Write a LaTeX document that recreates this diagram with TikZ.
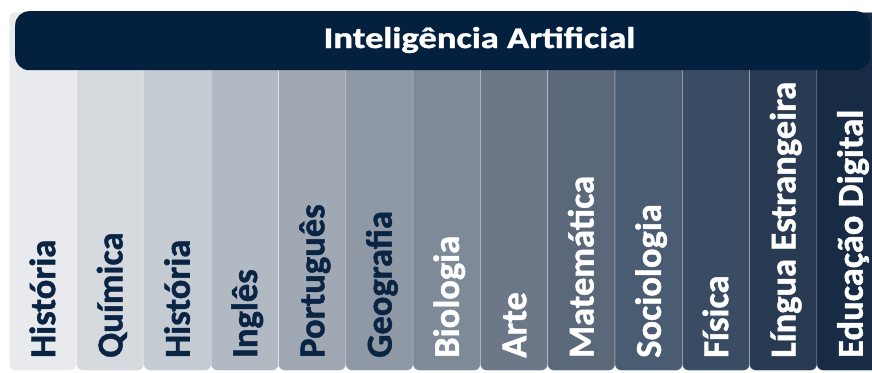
\documentclass[tikz,border=0pt]{standalone}
\usepackage{fontspec}
\setmainfont{Carlito}
\newfontfamily\labfont{Carlito}[BoldFeatures={FakeBold=1.2}]
\definecolor{banner}{HTML}{03203E}
\definecolor{darktext}{HTML}{0A2444}
\definecolor{ca}{HTML}{E9EAEE}
\definecolor{cb}{HTML}{D6D9DE}
\definecolor{cc}{HTML}{C4CBD3}
\definecolor{cd}{HTML}{B1B9C3}
\definecolor{ce}{HTML}{A0A9B3}
\definecolor{cf}{HTML}{8E99A5}
\definecolor{cg}{HTML}{7E8A98}
\definecolor{ch}{HTML}{6C7888}
\definecolor{ci}{HTML}{5A6879}
\definecolor{cj}{HTML}{4A5C71}
\definecolor{ck}{HTML}{3A4C63}
\definecolor{cl}{HTML}{293B53}
\definecolor{cm}{HTML}{172B45}
\begin{document}
\begin{tikzpicture}[x=1pt,y=-1pt,
  colbox/.style={draw=white, draw opacity=0.35, line width=0.6pt, rounded corners=6pt,
    minimum width=67.3pt, minimum height=358pt, inner sep=0pt, anchor=north west},
  lab/.style={rotate=90, anchor=base west, inner sep=0pt,
    font=\labfont\bfseries\fontsize{36.5}{40}\selectfont},
  bannerbox/.style={fill=banner, rounded corners=14pt, inner sep=0pt, anchor=north west,
    minimum width=855pt, minimum height=59pt}]
\useasboundingbox (0,0) rectangle (872,372);
\clip (0,0) rectangle (872,372);
\foreach \i/\c/\t/\tc in {0/ca/História/darktext, 1/cb/Química/darktext, 2/cc/História/darktext,
   3/cd/Inglês/darktext, 4/ce/Português/darktext, 5/cf/Geografia/darktext,
   6/cg/Biologia/white, 7/ch/Arte/white, 8/ci/Matemática/white, 9/cj/Sociologia/white,
   10/ck/Física/white, 11/cl/Língua Estrangeira/white, 12/cm/Educação Digital/white}{
  \pgfmathsetmacro{\xx}{9+67.3*\i}
  \pgfmathsetmacro{\xc}{\xx+33.65+12.5}
  \node[colbox, fill=\c] (col\i) at (\xx,12) {};
  \node[lab, text=\tc] (lab\i) at (\xc,358) {\t};
}
\node[bannerbox] (banner) at (15,11) {};
\node[text=white, anchor=base, inner sep=0pt] (title) at (479.5,48)
  {\scalebox{1.22}[1]{\labfont\bfseries\fontsize{30}{34}\selectfont Inteligência Artificial}};
\end{tikzpicture}
\end{document}
